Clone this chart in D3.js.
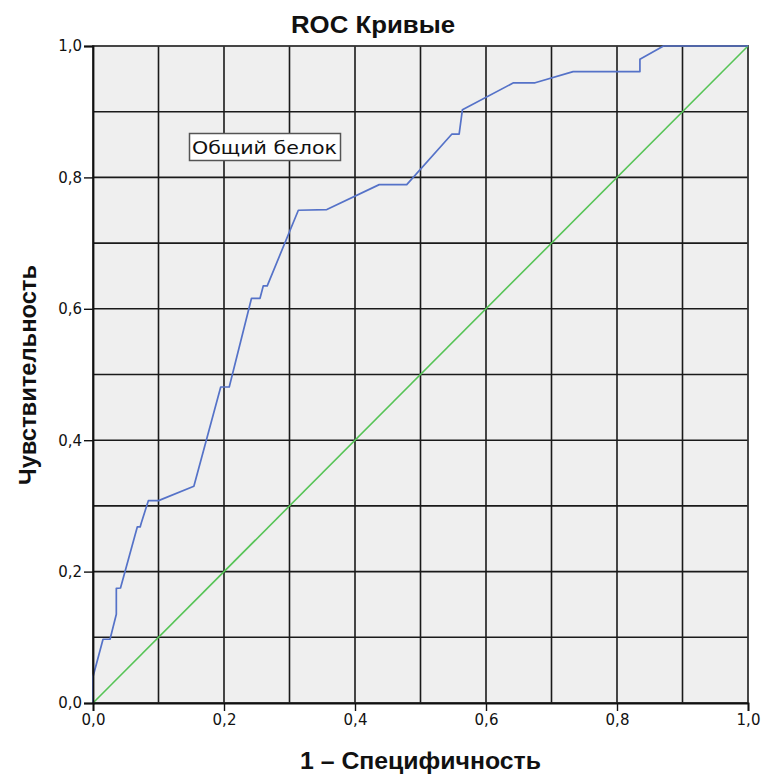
<!DOCTYPE html>
<html>
<head>
<meta charset="utf-8">
<script src="https://cdn.jsdelivr.net/npm/d3@7"></script>
<style>
  html, body { margin: 0; padding: 0; background: #ffffff; }
  svg { display: block; }
</style>
</head>
<body>
<svg id="chart" width="764" height="776"></svg>
<script>
// ROC curve points: 1 - specificity (x) and sensitivity (y)
const fpr = [0, 0, 0.0153, 0.026, 0.0356, 0.0356, 0.042, 0.0676, 0.072, 0.0737, 0.0845, 0.100, 0.154,
             0.195, 0.208, 0.242, 0.255, 0.260, 0.266, 0.3135, 0.357, 0.437, 0.479, 0.548, 0.559,
             0.564, 0.642, 0.675, 0.733, 0.835, 0.835, 0.871, 1.0];
const tpr = [0, 0.04, 0.097, 0.097, 0.135, 0.1745, 0.175, 0.268, 0.268, 0.274, 0.308, 0.308, 0.330,
             0.481, 0.481, 0.616, 0.616, 0.635, 0.635, 0.750, 0.751, 0.789, 0.789, 0.866, 0.866,
             0.903, 0.944, 0.944, 0.961, 0.961, 0.980, 1.0, 1.0];
// Reference (chance) diagonal
const refX = [0, 1];
const refY = [0, 1];
// Axis ticks and labels
const tickValues = [0, 0.2, 0.4, 0.6, 0.8, 1.0];
const gridValues = [0.1, 0.2, 0.3, 0.4, 0.5, 0.6, 0.7, 0.8, 0.9];
const titleText = "ROC Кривые";
const xLabel = "1 – Специфичность";
const yLabel = "Чувствительность";
const curveLabel = "Общий белок";

const svg = d3.select("#chart");
const pLeft = 93, pRight = 748, pTop = 46, pBottom = 703;

const x = d3.scaleLinear().domain([0, 1]).range([pLeft, pRight]);
const y = d3.scaleLinear().domain([0, 1]).range([pBottom, pTop]);
const fmt = d => d3.format(".1f")(d).replace(".", ",");

// Plot background
svg.append("rect")
  .attr("x", pLeft).attr("y", pTop)
  .attr("width", pRight - pLeft).attr("height", pBottom - pTop)
  .attr("fill", "#efefef");

// Grid
const grid = svg.append("g").attr("stroke", "#1a1a1a").attr("stroke-width", 1.6);
grid.selectAll("line.v").data(gridValues).join("line")
  .attr("class", "v")
  .attr("x1", d => x(d)).attr("x2", d => x(d))
  .attr("y1", pTop).attr("y2", pBottom);
grid.selectAll("line.h").data(gridValues).join("line")
  .attr("class", "h")
  .attr("y1", d => y(d)).attr("y2", d => y(d))
  .attr("x1", pLeft).attr("x2", pRight);

// Frame
svg.append("rect")
  .attr("x", pLeft).attr("y", pTop)
  .attr("width", pRight - pLeft).attr("height", pBottom - pTop)
  .attr("fill", "none").attr("stroke", "#333").attr("stroke-width", 1.8);

// Chance diagonal
const line = d3.line().x(d => x(d[0])).y(d => y(d[1]));
svg.append("path")
  .datum(d3.zip(refX, refY))
  .attr("d", line)
  .attr("fill", "none").attr("stroke", "#56c456").attr("stroke-width", 1.6);

// ROC curve
svg.append("path")
  .datum(d3.zip(fpr, tpr))
  .attr("d", line)
  .attr("fill", "none").attr("stroke", "#5572c8").attr("stroke-width", 1.7)
  .attr("stroke-linejoin", "round");

// Axes
const xAxis = d3.axisBottom(x).tickValues(tickValues).tickFormat(fmt).tickSize(8).tickPadding(3);
const yAxis = d3.axisLeft(y).tickValues(tickValues).tickFormat(fmt).tickSize(9).tickPadding(2);

const gx = svg.append("g").attr("transform", `translate(0,${pBottom})`).call(xAxis);
const gy = svg.append("g").attr("transform", `translate(${pLeft},0)`).call(yAxis);
[gx, gy].forEach(g => {
  g.select(".domain").attr("stroke", "#111").attr("stroke-width", 1.8);
  g.selectAll(".tick line").attr("stroke", "#111").attr("stroke-width", 1.4);
  g.selectAll(".tick text")
    .attr("font-family", "DejaVu Sans, Verdana, sans-serif")
    .attr("font-size", 15).attr("fill", "#111");
});

// Title and axis titles
svg.append("text")
  .attr("x", 373).attr("y", 33)
  .attr("text-anchor", "middle")
  .attr("font-family", "Liberation Sans Narrow, Liberation Sans, Arial, sans-serif")
  .attr("font-weight", "bold").attr("font-size", 24).attr("fill", "#111")
  .attr("textLength", 164).attr("lengthAdjust", "spacingAndGlyphs")
  .text(titleText);

svg.append("text")
  .attr("x", 420.5).attr("y", 769)
  .attr("text-anchor", "middle")
  .attr("font-family", "Liberation Sans Narrow, Liberation Sans, Arial, sans-serif")
  .attr("font-weight", "bold").attr("font-size", 24).attr("fill", "#111")
  .attr("textLength", 241).attr("lengthAdjust", "spacingAndGlyphs")
  .text(xLabel);

svg.append("text")
  .attr("transform", `translate(36,375) rotate(-90)`)
  .attr("text-anchor", "middle")
  .attr("font-family", "Liberation Sans Narrow, Liberation Sans, Arial, sans-serif")
  .attr("font-weight", "bold").attr("font-size", 24).attr("fill", "#111")
  .attr("textLength", 220).attr("lengthAdjust", "spacingAndGlyphs")
  .text(yLabel);

// Curve label box
const lbl = svg.append("g");
lbl.append("rect")
  .attr("x", 189.5).attr("y", 133.5).attr("width", 151).attr("height", 27)
  .attr("fill", "#ffffff").attr("stroke", "#555").attr("stroke-width", 1.5);
lbl.append("text")
  .attr("x", 192).attr("y", 154)
  .attr("font-family", "DejaVu Sans, Verdana, sans-serif")
  .attr("font-size", 18).attr("fill", "#111")
  .attr("textLength", 145).attr("lengthAdjust", "spacingAndGlyphs")
  .text(curveLabel);
</script>
</body>
</html>
